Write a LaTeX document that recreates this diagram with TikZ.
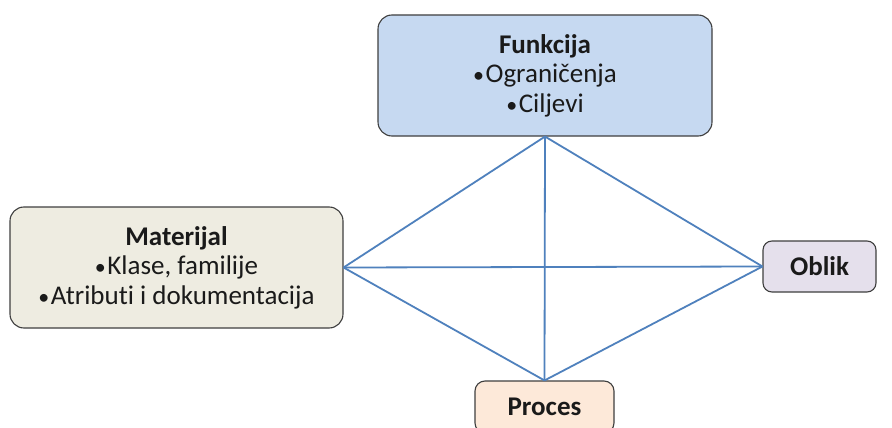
\documentclass[tikz,border=0pt]{standalone}
\usepackage{fontspec}
\setmainfont[Ligatures={NoCommon}]{Carlito}
\newcommand{\itembul}{{\fontsize{22}{22}\selectfont•}\hspace{1.5pt}}
\begin{document}
\begin{tikzpicture}[x=1pt,y=-1pt,
  box/.style={draw=boxline, line width=1.1pt, rounded corners=14pt, align=center,
    inner sep=0pt, text=textdark, font=\fontsize{27}{29.5}\selectfont},
  link/.style={draw=linkblue, line width=1.8pt}]
\definecolor{boxline}{HTML}{3F3F3F}
\definecolor{textdark}{HTML}{1A1A1A}
\definecolor{linkblue}{HTML}{4F81BD}
\definecolor{funkfill}{HTML}{C6D9F1}
\definecolor{matfill}{HTML}{EEECE1}
\definecolor{oblfill}{HTML}{E5E0EC}
\definecolor{profill}{HTML}{FDE9D9}
\clip (0,0) rectangle (892,428);
\fill[white] (0,0) rectangle (892,428);

\node[box, fill=funkfill, minimum width=334pt, minimum height=121pt] (funk) at (545,75.5)
  {\textbf{Funkcija}\\\itembul Ograničenja\\\itembul Ciljevi};
\node[box, fill=matfill, minimum width=333pt, minimum height=121pt] (mat) at (176.5,267.5)
  {\textbf{Materijal}\\\itembul Klase, familije\\\itembul Atributi i dokumentacija};
\node[box, fill=oblfill, minimum width=113pt, minimum height=51pt, rounded corners=9pt] (obl) at (819.5,266.5)
  {\textbf{Oblik}};
\node[box, fill=profill, minimum width=139pt, minimum height=52pt, rounded corners=10pt] (pro) at (544.5,407)
  {\textbf{Proces}};

\draw[link] (funk.south) -- (mat.east);
\draw[link] (funk.south) -- (obl.west);
\draw[link] (funk.south) -- (pro.north);
\draw[link] (mat.east) -- (obl.west);
\draw[link] (mat.east) -- (pro.north);
\draw[link] (obl.west) -- (pro.north);
\end{tikzpicture}
\end{document}
